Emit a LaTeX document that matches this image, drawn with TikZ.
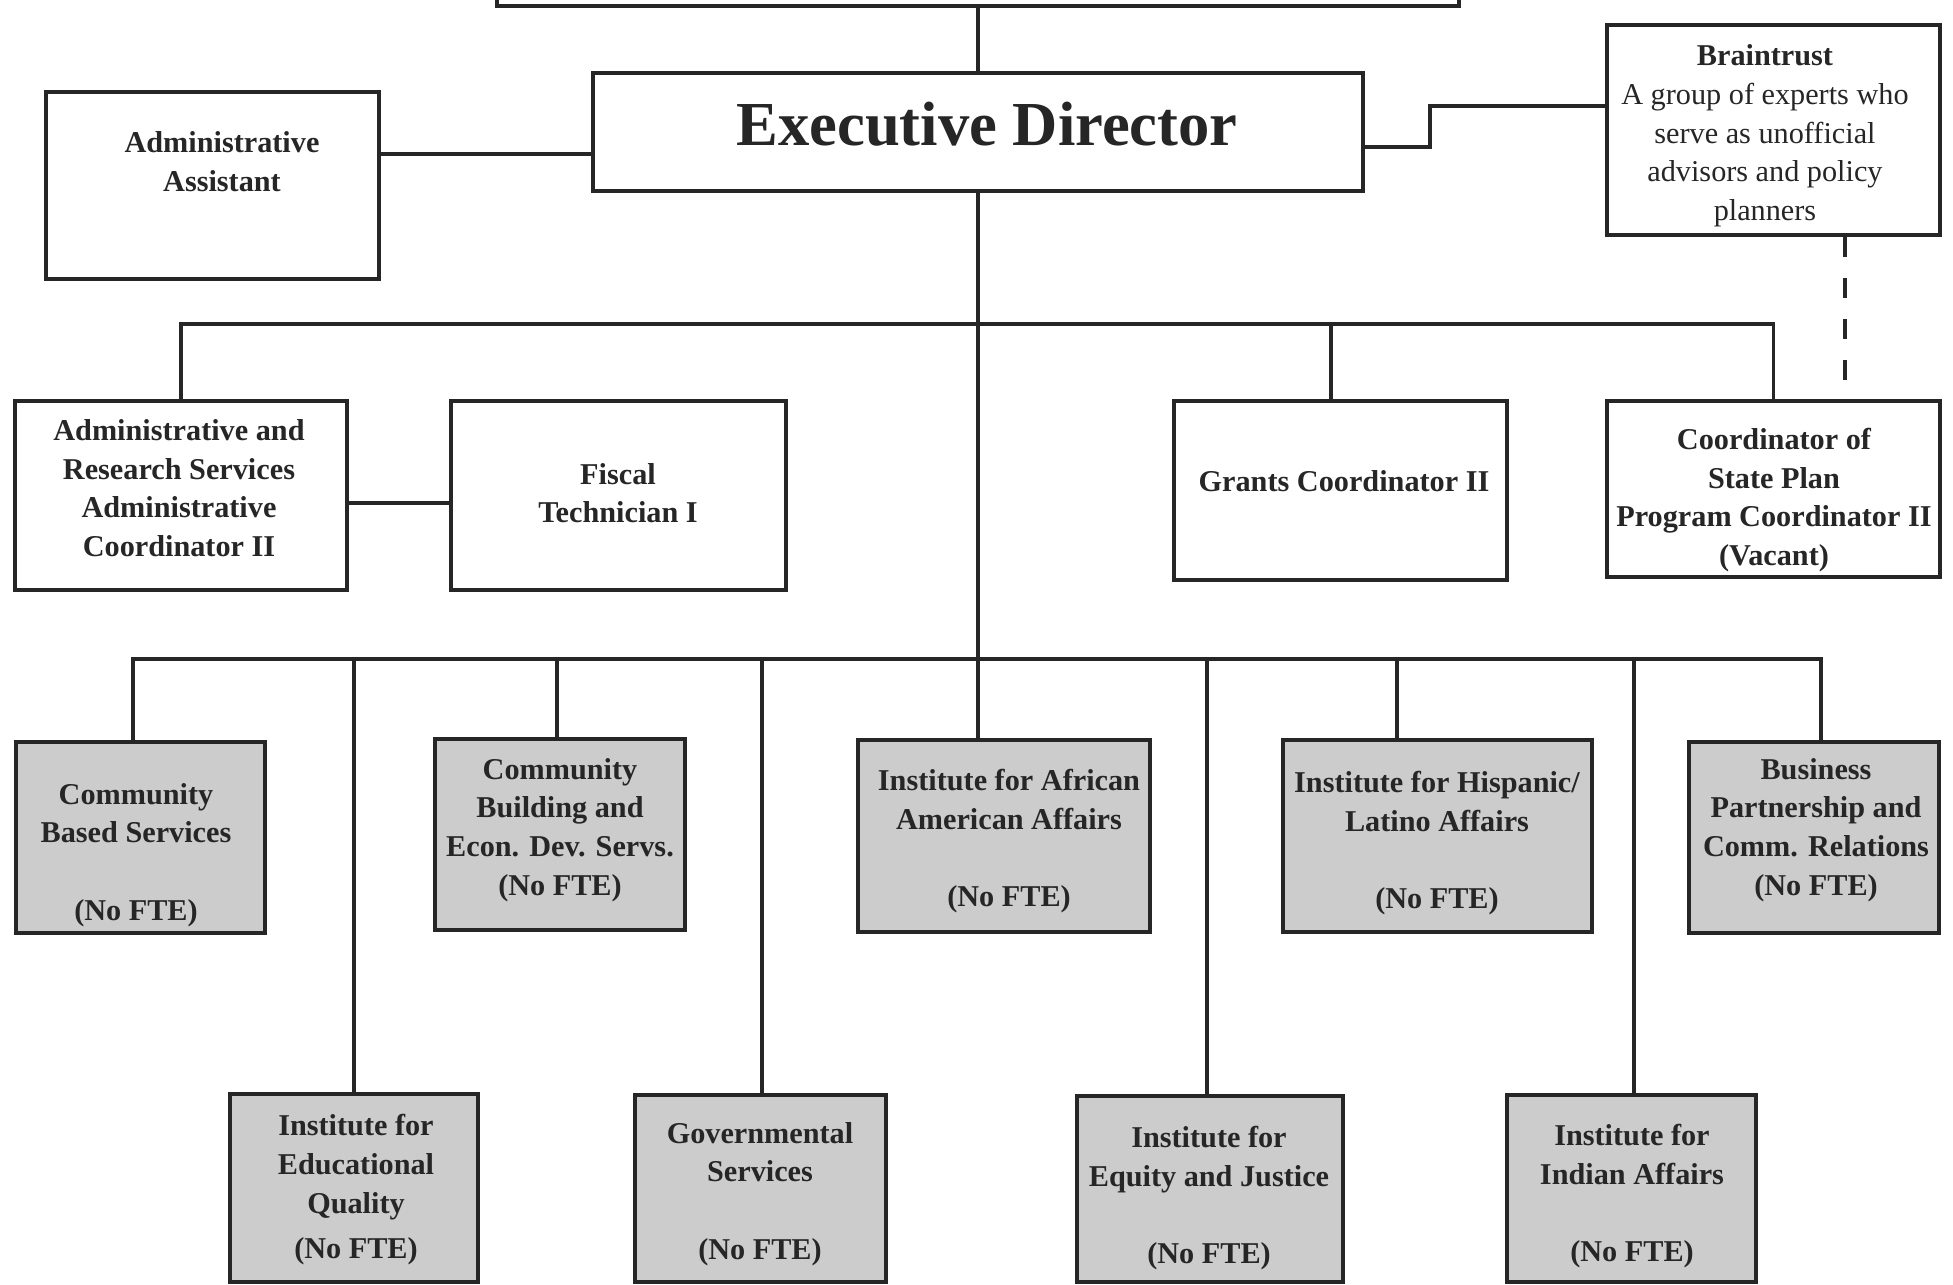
\documentclass[tikz,border=0pt]{standalone}
\usepackage{fontspec}
\setmainfont{Liberation Serif}
\begin{document}
\begin{tikzpicture}[x=0.01cm,y=-0.01cm,
  box/.style={draw=black!85, line width=1.1pt, fill=white, inner sep=0pt},
  shadebox/.style={box, fill=black!20},
  txt/.style={align=center, inner sep=0pt, font=\bfseries\fontsize{8.6}{11}\selectfont, text=black!85},
  conn/.style={draw=black!85, line width=0.9pt}]
\useasboundingbox (0,0) rectangle (1953,1285);
\fill[white] (0,0) rectangle (1953,1285);
\clip (0,0) rectangle (1953,1285);

% ---------- connectors' helper coordinates ----------
\coordinate (b1) at (0,324);
\coordinate (b2) at (0,659);
\coordinate (jaa) at (0,154);
\coordinate (jbt1) at (1430,147);
\coordinate (jbt2) at (1430,106);
\coordinate (jd) at (1845,0);
\coordinate (jf) at (0,503);
\coordinate (u1) at (133,659);
\coordinate (u2) at (557,659);
\coordinate (u3) at (979,659);
\coordinate (u4) at (1397,659);
\coordinate (u5) at (1821,659);
\coordinate (l1) at (354,659);
\coordinate (l2) at (762,659);
\coordinate (l3) at (1207,659);
\coordinate (l4) at (1634,659);
\coordinate (g1) at (1331,324);

% ---------- boxes ----------
\node[box, minimum width=9.62cm, minimum height=0.66cm] (top) at (978,-27) {};
\node[box, minimum width=7.70cm, minimum height=1.18cm] (ed) at (978,132) {};
\node[box, minimum width=3.33cm, minimum height=1.87cm] (aa) at (212.5,185.5) {};
\node[box, minimum width=3.33cm, minimum height=2.10cm] (bt) at (1773.5,130) {};
\node[box, minimum width=3.32cm, minimum height=1.89cm] (ars) at (181,495.5) {};
\node[box, minimum width=3.35cm, minimum height=1.89cm] (fis) at (618.5,495.5) {};
\node[box, minimum width=3.33cm, minimum height=1.79cm] (gr) at (1340.5,490.5) {};
\node[box, minimum width=3.33cm, minimum height=1.76cm] (co) at (1773.5,489) {};
\node[shadebox, minimum width=2.49cm, minimum height=1.91cm] (cbs) at (140.5,837.5) {};
\node[shadebox, minimum width=2.50cm, minimum height=1.91cm] (cbd) at (560,834.5) {};
\node[shadebox, minimum width=2.92cm, minimum height=1.92cm] (afr) at (1004,836) {};
\node[shadebox, minimum width=3.09cm, minimum height=1.92cm] (his) at (1437.5,836) {};
\node[shadebox, minimum width=2.50cm, minimum height=1.91cm] (bus) at (1814,837.5) {};
\node[shadebox, minimum width=2.48cm, minimum height=1.88cm] (edu) at (354,1188) {};
\node[shadebox, minimum width=2.51cm, minimum height=1.87cm] (gov) at (760.5,1188.5) {};
\node[shadebox, minimum width=2.66cm, minimum height=1.86cm] (eq) at (1210,1189) {};
\node[shadebox, minimum width=2.49cm, minimum height=1.87cm] (ind) at (1631.5,1188.5) {};

% ---------- connectors ----------
\draw[conn] (top.south) -- (ed.north);
\draw[conn] (aa.east |- jaa) -- (ed.west |- jaa);
\draw[conn] (ed.east |- jbt1) -- (jbt1) -- (jbt2) -- (bt.west |- jbt2);
\draw[conn, dash pattern=on 5.7pt off 6pt] (bt.south -| jd) -- (co.north -| jd);
\draw[conn] (ars.north) -- (ars.north |- b1) -- (co.north |- b1) -- (co.north);
\draw[conn] (g1) -- (gr.north -| g1);
\draw[conn] (ars.east |- jf) -- (fis.west |- jf);
\draw[conn] (ed.south) -- (afr.north -| ed.south);
\draw[conn] (cbs.north -| u1) -- (u1) -- (u5) -- (bus.north -| u5);
\draw[conn] (u2) -- (cbd.north -| u2);
\draw[conn] (u4) -- (his.north -| u4);
\draw[conn] (l1) -- (edu.north -| l1);
\draw[conn] (l2) -- (gov.north -| l2);
\draw[conn] (l3) -- (eq.north -| l3);
\draw[conn] (l4) -- (ind.north -| l4);

% ---------- texts ----------
\node[txt, font=\bfseries\fontsize{17.8}{20}\selectfont] (edt) at (987,124) {Executive Director};
\node[txt] (aat) at (222,162) {Administrative\\Assistant};
\node[txt] (btt) at (1765,136) {Braintrust\\\mdseries A group of experts who\\\mdseries serve as unofficial\\\mdseries advisors and policy\\\mdseries planners};
\node[txt] (arst) at (179,488) {Administrative and\\Research Services\\Administrative\\Coordinator II};
\node[txt] (fist) at (618,493) {Fiscal\\Technician I};
\node[txt] (grt) at (1344,481) {Grants Coordinator II};
\node[txt] (cot) at (1774,500) {Coordinator of\\State Plan\\Program Coordinator II\\(Vacant)};
\node[txt] (cbst) at (136,855) {Community\\Based Services\\[11pt](No FTE)};
\node[txt] (cbdt) at (560,830) {Community\\Building and\\Econ. Dev. Servs.\\(No FTE)};
\node[txt] (afrt) at (1009,841) {Institute for African\\American Affairs\\[11pt](No FTE)};
\node[txt] (hist) at (1437,843) {Institute for Hispanic/\\Latino Affairs\\[11pt](No FTE)};
\node[txt] (bust) at (1816,830) {Business\\Partnership and\\Comm. Relations\\(No FTE)};
\node[txt] (edut) at (356,1190) {Institute for\\Educational\\Quality\\[2pt](No FTE)};
\node[txt] (govt) at (760,1194) {Governmental\\Services\\[11pt](No FTE)};
\node[txt] (eqt) at (1209,1198) {Institute for\\Equity and Justice\\[11pt](No FTE)};
\node[txt] (indt) at (1632,1196) {Institute for\\Indian Affairs\\[11pt](No FTE)};
\end{tikzpicture}
\end{document}
